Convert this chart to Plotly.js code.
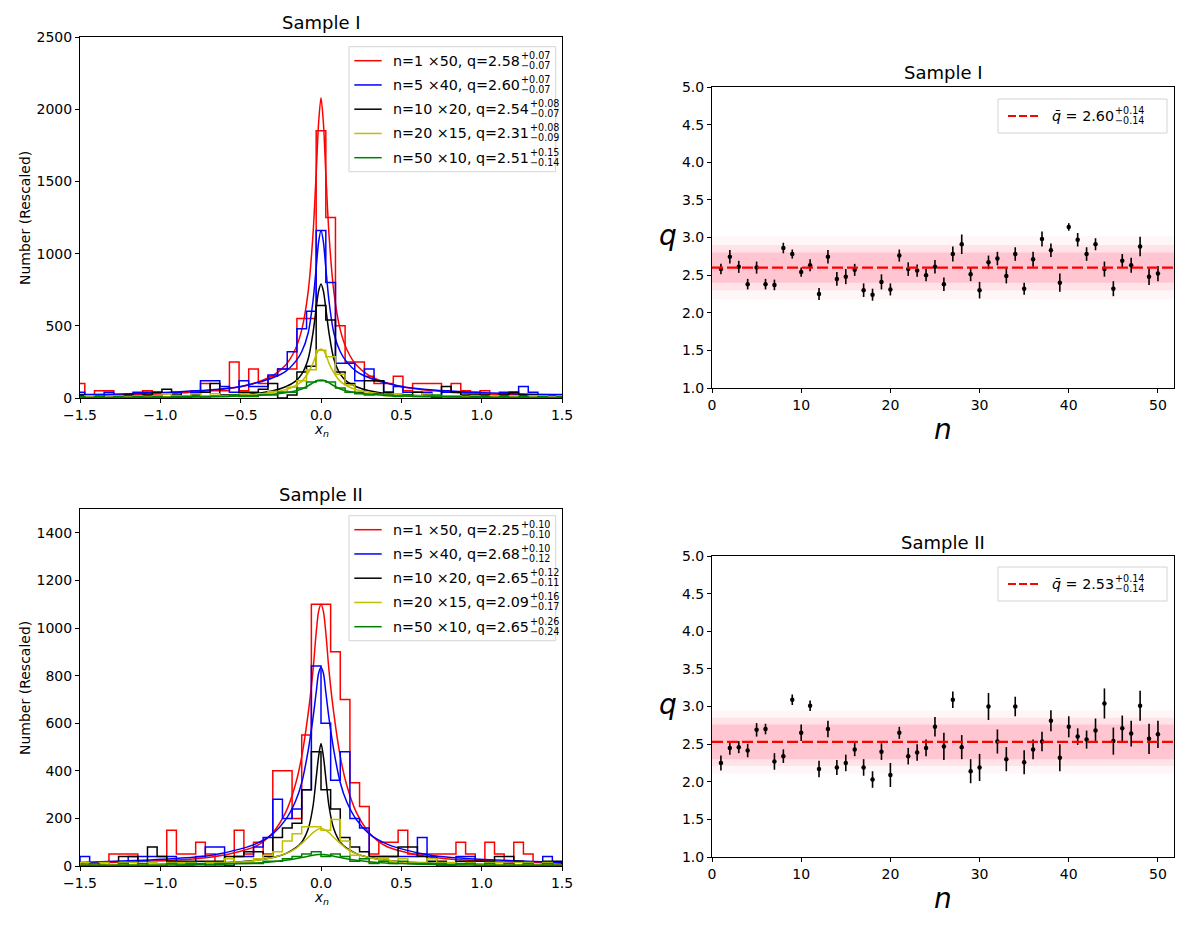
<!DOCTYPE html>
<html>
<head>
<meta charset="utf-8">
<script src="https://cdn.plot.ly/plotly-3.0.1.min.js"></script>
<style>html,body{margin:0;padding:0;background:#fff;}#chart{width:1200px;height:926px;}</style>
</head>
<body>
<div id="chart"></div>
<script>
// ---------------- DATA ----------------
// histogram bins (width 0.06); top panel bins centred on 0, bottom panel bins with an edge at 0
const binWidth = 0.06;
const topBinStart = -1.5;     // centre of first top bin
const topBinCount = 51;
const botBinStart = -1.47;    // centre of first bottom bin
const botBinCount = 50;

// Sample I histograms (rescaled counts)
const topRed    = [100,0,50,50,0,0,0,50,0,0,0,0,50,100,50,50,250,50,200,100,150,200,200,550,550,1850,1250,500,250,250,150,100,100,150,50,100,100,100,50,100,50,0,50,0,0,0,0,0,0,0,0];
const topBlue   = [40,0,0,40,0,0,40,40,40,0,40,0,40,120,120,80,40,120,80,80,160,200,320,480,600,1160,800,240,240,120,200,120,40,80,40,40,40,0,40,40,40,40,0,0,40,40,80,40,0,0,0];
const topBlack  = [20,0,0,0,0,20,0,20,40,60,20,0,20,40,100,20,20,40,40,60,100,0,20,180,220,640,540,180,100,40,120,120,40,20,20,40,20,0,80,40,20,20,20,0,20,40,20,20,0,0,0];
const topYellow = [0,15,0,0,15,0,15,0,15,30,15,15,30,15,30,15,15,30,15,30,45,45,75,120,195,330,285,165,90,45,30,30,15,30,15,15,30,15,15,15,0,15,0,15,0,15,0,15,15,0,15];
const topGreen  = [10,0,10,0,10,0,10,0,10,0,10,10,10,0,10,10,20,10,10,20,20,40,40,70,110,120,110,70,40,30,20,30,20,10,20,10,10,20,10,10,0,10,10,0,10,0,10,0,10,0,10];

// Sample II histograms (rescaled counts)
const botRed    = [0,0,0,50,50,50,0,0,0,150,50,50,100,50,0,0,150,50,100,50,400,400,200,550,1100,1100,900,700,350,250,50,100,100,150,50,50,50,50,50,100,50,0,100,50,0,100,50,0,0,0];
const botBlue   = [40,0,0,0,0,40,40,40,40,40,0,0,40,80,80,0,40,40,80,120,280,200,240,320,840,600,360,480,200,160,40,40,40,40,40,120,40,0,0,40,40,0,0,0,0,0,0,0,40,0];
const botBlack  = [0,0,0,0,40,40,0,80,40,20,20,20,20,20,20,40,40,60,60,40,120,160,180,320,480,320,240,120,80,60,40,40,40,80,80,40,20,20,0,20,20,20,20,40,40,20,0,0,20,20];
const botYellow = [15,0,15,0,15,15,0,15,0,15,15,15,0,15,15,30,15,15,30,45,60,105,135,165,165,150,195,105,45,30,15,30,15,30,15,15,30,15,15,0,15,0,15,15,0,15,15,0,15,0];
const botGreen  = [0,10,0,0,10,0,10,0,0,10,0,10,10,0,10,10,10,10,10,20,20,30,40,50,60,40,50,40,20,30,10,20,10,20,10,10,10,10,0,10,10,0,10,0,10,0,10,0,10,0];

// fitted curves, read at these x positions
const curveX = [-1.5,-1.2,-0.9,-0.7,-0.5,-0.4,-0.3,-0.22,-0.16,-0.12,-0.08,-0.05,-0.03,-0.015,0,0.015,0.03,0.05,0.08,0.12,0.16,0.22,0.3,0.4,0.5,0.7,0.9,1.2,1.5];
const topRedFit    = [18,24,33,50,78,108,155,228,338,472,735,1130,1555,1905,2080,1905,1555,1130,735,472,338,228,155,108,78,50,33,24,18];
const topBlueFit   = [24,30,42,55,80,105,140,185,250,320,450,670,900,1080,1160,1080,900,670,450,320,250,185,140,105,80,55,42,30,24];
const topBlackFit  = [4,6,9,13,22,32,50,78,115,165,270,450,620,740,790,740,620,450,270,165,115,78,50,32,22,13,9,6,4];
const topYellowFit = [4,5,8,12,20,27,40,58,85,115,175,240,300,330,340,330,300,240,175,115,85,58,40,27,20,12,8,5,4];
const topGreenFit  = [3,4,6,8,13,18,26,36,48,62,85,105,118,123,125,123,118,105,85,62,48,36,26,18,13,8,6,4,3];
const botRedFit    = [12,17,25,36,62,85,140,225,340,460,640,820,980,1070,1100,1070,980,820,640,460,340,225,140,85,62,36,25,17,12];
const botBlueFit   = [15,22,32,43,72,95,135,195,270,350,485,620,730,810,835,810,730,620,485,350,270,195,135,95,72,43,32,22,15];
const botBlackFit  = [4,5,8,11,18,25,36,52,75,100,155,250,370,460,515,460,370,250,155,100,75,52,36,25,18,11,8,5,4];
const botYellowFit = [3,5,7,10,17,24,36,52,72,95,120,140,150,156,158,156,150,140,120,95,72,52,36,24,17,10,7,5,3];
const botGreenFit  = [2,3,4,6,10,13,18,24,30,36,41,45,47,48,48,48,47,45,41,36,30,24,18,13,10,6,4,3,2];

const seriesColors = ['#ff0000','#0000ff','#000000','#bfbf00','#008000'];
const topLegendMain  = ['n=1 ×50, q=2.58','n=5 ×40, q=2.60','n=10 ×20, q=2.54','n=20 ×15, q=2.31','n=50 ×10, q=2.51'];
const topLegendPlus  = ['+0.07','+0.07','+0.08','+0.08','+0.15'];
const topLegendMinus = ['−0.07','−0.07','−0.07','−0.09','−0.14'];
const botLegendMain  = ['n=1 ×50, q=2.25','n=5 ×40, q=2.68','n=10 ×20, q=2.65','n=20 ×15, q=2.09','n=50 ×10, q=2.65'];
const botLegendPlus  = ['+0.10','+0.10','+0.12','+0.16','+0.26'];
const botLegendMinus = ['−0.10','−0.12','−0.11','−0.17','−0.24'];

// q per n
const nValues = [1,2,3,4,5,6,7,8,9,10,11,12,13,14,15,16,17,18,19,20,21,22,23,24,25,26,27,28,29,30,31,32,33,34,35,36,37,38,39,40,41,42,43,44,45,46,47,48,49,50];
const topQ   = [2.58,2.745,2.61,2.38,2.60,2.38,2.37,2.86,2.78,2.54,2.63,2.25,2.745,2.45,2.48,2.57,2.30,2.24,2.41,2.31,2.76,2.58,2.56,2.50,2.61,2.38,2.78,2.91,2.51,2.30,2.67,2.72,2.49,2.78,2.32,2.71,2.98,2.83,2.40,3.14,2.97,2.78,2.91,2.58,2.32,2.69,2.63,2.88,2.48,2.52];
const topErr = [0.07,0.09,0.08,0.07,0.08,0.07,0.07,0.07,0.06,0.06,0.08,0.08,0.09,0.09,0.10,0.08,0.09,0.08,0.10,0.08,0.08,0.09,0.08,0.08,0.09,0.09,0.10,0.13,0.09,0.11,0.09,0.09,0.10,0.09,0.08,0.10,0.10,0.09,0.12,0.05,0.09,0.09,0.08,0.10,0.10,0.09,0.10,0.13,0.11,0.10];
const botQ   = [2.25,2.45,2.46,2.415,2.69,2.70,2.27,2.34,3.09,2.65,3.01,2.17,2.70,2.19,2.25,2.43,2.19,2.03,2.40,2.09,2.65,2.34,2.39,2.45,2.73,2.47,3.09,2.46,2.14,2.19,3.00,2.535,2.30,3.00,2.26,2.43,2.535,2.81,2.32,2.73,2.60,2.56,2.68,3.04,2.54,2.71,2.64,3.01,2.57,2.63];
const botErr = [0.10,0.09,0.08,0.09,0.09,0.07,0.11,0.09,0.07,0.11,0.07,0.11,0.11,0.10,0.11,0.09,0.11,0.11,0.11,0.16,0.08,0.11,0.11,0.11,0.13,0.18,0.11,0.16,0.16,0.18,0.18,0.16,0.16,0.13,0.16,0.13,0.13,0.14,0.18,0.14,0.11,0.12,0.16,0.20,0.18,0.17,0.17,0.20,0.20,0.18];
const topMean = 2.60, topMeanPlus = '+0.14', topMeanMinus = '−0.14';
const botMean = 2.53, botMeanPlus = '+0.14', botMeanMinus = '−0.14';
const topBandHalf = [0.42, 0.30, 0.20];
const botBandHalf = [0.42, 0.32, 0.23];
const bandAlpha = [0.15, 0.35, 0.85];

// ---------------- BUILD ----------------
const W = 1200, H = 926;
const px = x => x / W;
const py = y => 1 - y / H;
const FONT = 'DejaVu Sans';
const TICK = 14, LEG = 14.3, SUPSZ = 9.6, TITLE = 18, LAB = 14, BIG = 28;

function centers(start, count){ const c=[]; for(let i=0;i<count;i++) c.push(+(start + i*binWidth).toFixed(4)); return c; }
const topCenters = centers(topBinStart, topBinCount);
const botCenters = centers(botBinStart, botBinCount);

function stepTrace(cs, counts, color, xa, ya){
  const xs=[cs[0]-binWidth/2], ys=[0];
  for(let i=0;i<cs.length;i++){ xs.push(cs[i]-binWidth/2); ys.push(counts[i]); }
  xs.push(cs[cs.length-1]+binWidth/2); ys.push(0);
  return {x:xs, y:ys, type:'scatter', mode:'lines', line:{color:color, width:1.5, shape:'hv'}, xaxis:xa, yaxis:ya, hoverinfo:'skip'};
}
function curveTrace(vals, color, xa, ya){
  return {x:curveX, y:vals, type:'scatter', mode:'lines', line:{color:color, width:1.5, shape:'spline', smoothing:0.8}, xaxis:xa, yaxis:ya, hoverinfo:'skip'};
}

const traces = [];
const topH = [topRed, topBlue, topBlack, topYellow, topGreen];
const topF = [topRedFit, topBlueFit, topBlackFit, topYellowFit, topGreenFit];
const botH = [botRed, botBlue, botBlack, botYellow, botGreen];
const botF = [botRedFit, botBlueFit, botBlackFit, botYellowFit, botGreenFit];
for(let k=0;k<5;k++){
  traces.push(stepTrace(topCenters, topH[k], seriesColors[k], 'x', 'y'));
  traces.push(curveTrace(topF[k], seriesColors[k], 'x', 'y'));
}
for(let k=0;k<5;k++){
  traces.push(stepTrace(botCenters, botH[k], seriesColors[k], 'x2', 'y2'));
  traces.push(curveTrace(botF[k], seriesColors[k], 'x2', 'y2'));
}
function qTrace(q, err, xa, ya){
  return {x:nValues, y:q, type:'scatter', mode:'markers', xaxis:xa, yaxis:ya,
    marker:{color:'black', size:4.5},
    error_y:{type:'data', array:err, visible:true, color:'black', thickness:1.6, width:0}, hoverinfo:'skip'};
}
traces.push(qTrace(topQ, topErr, 'x3', 'y3'));
traces.push(qTrace(botQ, botErr, 'x4', 'y4'));

const axBase = {showline:true, mirror:true, linecolor:'black', linewidth:1, ticks:'outside', ticklen:4, tickwidth:1, tickcolor:'black',
  showgrid:false, zeroline:false, tickfont:{family:FONT, size:TICK, color:'black'}, fixedrange:true};
const leftX = [80, 562], rightX = [712, 1174];
const layout = {
  width:W, height:H, margin:{l:0,r:0,t:0,b:0}, paper_bgcolor:'white', plot_bgcolor:'white', showlegend:false,
  font:{family:FONT, size:TICK, color:'black'},
  xaxis:  Object.assign({}, axBase, {domain:[px(leftX[0]),px(leftX[1])], anchor:'y', range:[-1.5,1.5], tickvals:[-1.5,-1,-0.5,0,0.5,1,1.5], tickformat:'.1f'}),
  yaxis:  Object.assign({}, axBase, {domain:[py(398),py(37)], anchor:'x', range:[0,2500], tickvals:[0,500,1000,1500,2000,2500]}),
  xaxis2: Object.assign({}, axBase, {domain:[px(leftX[0]),px(leftX[1])], anchor:'y2', range:[-1.5,1.5], tickvals:[-1.5,-1,-0.5,0,0.5,1,1.5], tickformat:'.1f'}),
  yaxis2: Object.assign({}, axBase, {domain:[py(866),py(509)], anchor:'x2', range:[0,1500], tickvals:[0,200,400,600,800,1000,1200,1400]}),
  xaxis3: Object.assign({}, axBase, {domain:[px(rightX[0]),px(rightX[1])], anchor:'y3', range:[0,51.8], tickvals:[0,10,20,30,40,50]}),
  yaxis3: Object.assign({}, axBase, {domain:[py(388),py(87)], anchor:'x3', range:[1,5], tickvals:[1,1.5,2,2.5,3,3.5,4,4.5,5], tickformat:'.1f'}),
  xaxis4: Object.assign({}, axBase, {domain:[px(rightX[0]),px(rightX[1])], anchor:'y4', range:[0,51.8], tickvals:[0,10,20,30,40,50]}),
  yaxis4: Object.assign({}, axBase, {domain:[py(857),py(556)], anchor:'x4', range:[1,5], tickvals:[1,1.5,2,2.5,3,3.5,4,4.5,5], tickformat:'.1f'}),
  shapes:[], annotations:[]
};

// bands and mean lines
function addBands(mean, halves, xa, ya){
  halves.forEach((h,i)=>{
    layout.shapes.push({type:'rect', xref:xa+' domain', yref:ya, x0:0, x1:1, y0:mean-h, y1:mean+h,
      fillcolor:'rgba(255,192,203,'+bandAlpha[i]+')', line:{width:0}, layer:'below'});
  });
  layout.shapes.push({type:'line', xref:xa+' domain', yref:ya, x0:0, x1:1, y0:mean, y1:mean,
    line:{color:'#ff0000', width:2.4, dash:'11px,4px'}, layer:'above'});
}
addBands(topMean, topBandHalf, 'x3', 'y3');
addBands(botMean, botBandHalf, 'x4', 'y4');

// text measuring for the stacked super/subscripts
const ctx = document.createElement('canvas').getContext('2d');
function textW(s, size){ ctx.font = size + "px 'DejaVu Sans'"; return ctx.measureText(s).width; }

function ann(text, x, y, size, opts){
  return Object.assign({text:text, x:px(x), y:py(y), xref:'paper', yref:'paper', showarrow:false,
    font:{family:FONT, size:size, color:'black'}, xanchor:'center', yanchor:'middle', borderpad:0}, opts||{});
}

function histLegend(boxTop, mains, plus, minus){
  const rowGap = 24.25, firstRow = boxTop + 14;
  layout.shapes.push({type:'rect', xref:'paper', yref:'paper', x0:px(349), x1:px(555.7), y0:py(boxTop+125), y1:py(boxTop),
    fillcolor:'rgba(255,255,255,0.8)', line:{color:'#d4d4d4', width:1}, layer:'above'});
  for(let k=0;k<5;k++){
    const ry = firstRow + k*rowGap;
    layout.shapes.push({type:'line', xref:'paper', yref:'paper', x0:px(354.3), x1:px(381.7), y0:py(ry), y1:py(ry),
      line:{color:seriesColors[k], width:1.5}, layer:'above'});
    const tx = 392.3;
    layout.annotations.push(ann(mains[k], tx, ry, LEG, {xanchor:'left'}));
    const w = textW(mains[k], LEG);
    layout.annotations.push(ann(plus[k], tx + w + 1, ry - 5.5, SUPSZ, {xanchor:'left'}));
    layout.annotations.push(ann(minus[k], tx + w + 1, ry + 4.5, SUPSZ, {xanchor:'left'}));
  }
}
histLegend(46.7, topLegendMain, topLegendPlus, topLegendMinus);
histLegend(515.7, botLegendMain, botLegendPlus, botLegendMinus);

function meanLegend(boxTop, mean, plus, minus){
  const ry = boxTop + 17;
  layout.shapes.push({type:'rect', xref:'paper', yref:'paper', x0:px(998), x1:px(1167), y0:py(boxTop+34), y1:py(boxTop),
    fillcolor:'rgba(255,255,255,0.8)', line:{color:'#d4d4d4', width:1}, layer:'above'});
  layout.shapes.push({type:'line', xref:'paper', yref:'paper', x0:px(1008), x1:px(1041), y0:py(ry), y1:py(ry),
    line:{color:'#ff0000', width:2.2, dash:'8px,3px'}, layer:'above'});
  const tx = 1051;
  const mainTxt = '<i>q\u0304</i> = ' + mean.toFixed(2);
  layout.annotations.push(ann(mainTxt, tx, ry, LEG, {xanchor:'left'}));
  const w = textW('q\u0304 = ' + mean.toFixed(2), LEG);
  layout.annotations.push(ann(plus, tx + w + 1, ry - 5.5, SUPSZ, {xanchor:'left'}));
  layout.annotations.push(ann(minus, tx + w + 1, ry + 4.5, SUPSZ, {xanchor:'left'}));
}
meanLegend(99, topMean, topMeanPlus, topMeanMinus);
meanLegend(567, botMean, botMeanPlus, botMeanMinus);

// titles and axis labels
layout.annotations.push(ann('Sample I', 321, 22, TITLE));
layout.annotations.push(ann('Sample II', 321, 494, TITLE));
layout.annotations.push(ann('Sample I', 943, 73, TITLE));
layout.annotations.push(ann('Sample II', 943, 542, TITLE));
layout.annotations.push(ann('<i>x<sub>n</sub></i>', 321, 430, 13.5));
layout.annotations.push(ann('<i>x<sub>n</sub></i>', 321, 898, 13.5));
layout.annotations.push(ann('Number (Rescaled)', 25, 218, LAB, {textangle:-90}));
layout.annotations.push(ann('Number (Rescaled)', 25, 688, LAB, {textangle:-90}));
layout.annotations.push(ann('<i>q</i>', 668, 236, BIG));
layout.annotations.push(ann('<i>q</i>', 668, 704, BIG));
layout.annotations.push(ann('<i>n</i>', 943, 430, BIG));
layout.annotations.push(ann('<i>n</i>', 943, 898, BIG));

Plotly.newPlot('chart', traces, layout, {staticPlot:true, displayModeBar:false});
</script>
</body>
</html>
